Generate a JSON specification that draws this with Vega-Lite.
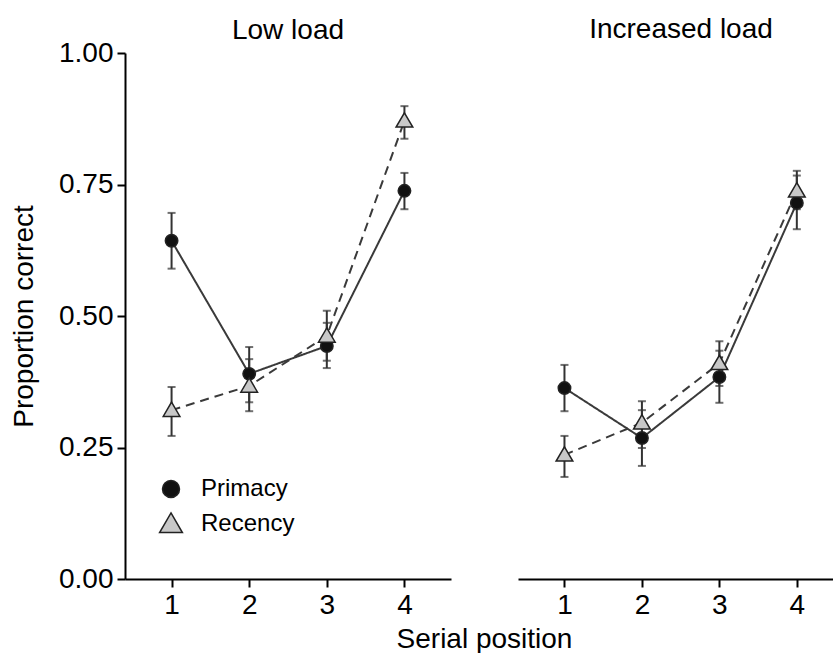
{
  "$schema": "https://vega.github.io/schema/vega-lite/v6.json",
  "padding": {"left": 10, "top": 16, "right": 0, "bottom": 0},
  "background": "white",
  "bounds": "flush",
  "config": {
    "font": "Liberation Sans",
    "view": {"stroke": null},
    "axis": {"grid": false, "domainColor": "#000", "domainWidth": 2, "tickColor": "#000", "tickWidth": 2, "tickSize": 8, "labelFontSize": 28, "titleFontSize": 28, "labelColor": "#000", "titleColor": "#000", "titleFontWeight": "normal", "labelFont": "Liberation Sans", "titleFont": "Liberation Sans"},
    "title": {"fontSize": 28, "fontWeight": "normal", "color": "#000", "font": "Liberation Sans"}
  },
  "data": {"values": [
    {"load": "Low load", "position": 1, "series": "Primacy", "value": 0.643, "lo": 0.590, "hi": 0.696},
    {"load": "Low load", "position": 2, "series": "Primacy", "value": 0.390, "lo": 0.336, "hi": 0.441},
    {"load": "Low load", "position": 3, "series": "Primacy", "value": 0.443, "lo": 0.401, "hi": 0.487},
    {"load": "Low load", "position": 4, "series": "Primacy", "value": 0.738, "lo": 0.703, "hi": 0.772},
    {"load": "Low load", "position": 1, "series": "Recency", "value": 0.321, "lo": 0.272, "hi": 0.365},
    {"load": "Low load", "position": 2, "series": "Recency", "value": 0.367, "lo": 0.319, "hi": 0.418},
    {"load": "Low load", "position": 3, "series": "Recency", "value": 0.462, "lo": 0.415, "hi": 0.510},
    {"load": "Low load", "position": 4, "series": "Recency", "value": 0.871, "lo": 0.837, "hi": 0.899},
    {"load": "Increased load", "position": 1, "series": "Primacy", "value": 0.363, "lo": 0.319, "hi": 0.407},
    {"load": "Increased load", "position": 2, "series": "Primacy", "value": 0.268, "lo": 0.215, "hi": 0.321},
    {"load": "Increased load", "position": 3, "series": "Primacy", "value": 0.384, "lo": 0.335, "hi": 0.434},
    {"load": "Increased load", "position": 4, "series": "Primacy", "value": 0.715, "lo": 0.665, "hi": 0.767},
    {"load": "Increased load", "position": 1, "series": "Recency", "value": 0.236, "lo": 0.194, "hi": 0.272},
    {"load": "Increased load", "position": 2, "series": "Recency", "value": 0.297, "lo": 0.249, "hi": 0.338},
    {"load": "Increased load", "position": 3, "series": "Recency", "value": 0.410, "lo": 0.367, "hi": 0.452},
    {"load": "Increased load", "position": 4, "series": "Recency", "value": 0.738, "lo": 0.703, "hi": 0.776}
  ]},
  "spacing": 67,
  "resolve": {"legend": {"shape": "independent", "fill": "independent"}},
  "hconcat": [
    {
      "width": 326,
      "height": 526,
      "title": {"text": "Low load", "anchor": "middle", "frame": "group", "offset": -6},
      "transform": [{"filter": "datum.load === 'Low load'"}],
      "encoding": {
        "x": {"field": "position", "type": "quantitative", "scale": {"domain": [0.4, 4.6], "nice": false, "zero": false},
              "axis": {"values": [1, 2, 3, 4], "format": "d", "labelPadding": 4, "title": "Serial position", "titleX": 359, "titleAlign": "center", "titlePadding": 6}}
      },
      "layer": [
        {"mark": {"type": "line", "color": "#3a3a3a", "strokeWidth": 2},
         "encoding": {"y": {"field": "value", "type": "quantitative", "scale": {"domain": [0, 1], "nice": false},
                            "axis": {"values": [0, 0.25, 0.5, 0.75, 1], "format": ".2f", "title": "Proportion correct", "labelPadding": 4, "titlePadding": 20}},
                      "detail": {"field": "series"},
                      "strokeDash": {"field": "series", "type": "nominal", "scale": {"domain": ["Primacy", "Recency"], "range": [[1, 0], [9, 6]]}, "legend": null}}},
        {"mark": {"type": "rule", "color": "#333", "strokeWidth": 2},
         "encoding": {"y": {"field": "lo", "type": "quantitative"}, "y2": {"field": "hi"}}},
        {"mark": {"type": "tick", "orient": "horizontal", "color": "#333", "thickness": 2, "size": 8},
         "encoding": {"y": {"field": "lo", "type": "quantitative"}}},
        {"mark": {"type": "tick", "orient": "horizontal", "color": "#333", "thickness": 2, "size": 8},
         "encoding": {"y": {"field": "hi", "type": "quantitative"}}},
        {"mark": {"type": "point", "filled": true, "opacity": 1, "stroke": "#222", "strokeWidth": 1.5, "size": 155},
         "encoding": {"y": {"field": "value", "type": "quantitative"},
                      "shape": {"field": "series", "type": "nominal", "scale": {"domain": ["Primacy", "Recency"], "range": ["circle", "M0,-1.3L1.34,1.0L-1.34,1.0Z"]},
                                "legend": {"title": null, "orient": "none", "legendX": 34, "legendY": 424, "labelFontSize": 24, "labelColor": "#000", "symbolSize": 289, "labelOffset": 18, "rowPadding": 8,
                                           "encode": {"symbols": {"stroke": {"value": "#333"}, "strokeWidth": {"value": 1.5}}}}},
                      "fill": {"field": "series", "type": "nominal", "scale": {"domain": ["Primacy", "Recency"], "range": ["#111111", "#c8c8c8"]},
                               "legend": {"title": null, "orient": "none", "legendX": 34, "legendY": 424, "labelFontSize": 24, "labelColor": "#000", "symbolSize": 289, "labelOffset": 18, "rowPadding": 8,
                                          "encode": {"symbols": {"stroke": {"value": "#333"}, "strokeWidth": {"value": 1.5}}}}}}}
      ]
    },
    {
      "width": 316,
      "height": 526,
      "title": {"text": "Increased load", "anchor": "middle", "frame": "group", "offset": 9, "dx": 5},
      "transform": [{"filter": "datum.load === 'Increased load'"}],
      "encoding": {
        "x": {"field": "position", "type": "quantitative", "scale": {"domain": [0.4, 4.48], "nice": false, "zero": false},
              "axis": {"values": [1, 2, 3, 4], "format": "d", "labelPadding": 4, "title": null}}
      },
      "layer": [
        {"mark": {"type": "line", "color": "#3a3a3a", "strokeWidth": 2},
         "encoding": {"y": {"field": "value", "type": "quantitative", "scale": {"domain": [0, 1], "nice": false}, "axis": null},
                      "detail": {"field": "series"},
                      "strokeDash": {"field": "series", "type": "nominal", "scale": {"domain": ["Primacy", "Recency"], "range": [[1, 0], [9, 6]]}, "legend": null}}},
        {"mark": {"type": "rule", "color": "#333", "strokeWidth": 2},
         "encoding": {"y": {"field": "lo", "type": "quantitative", "axis": null}, "y2": {"field": "hi"}}},
        {"mark": {"type": "tick", "orient": "horizontal", "color": "#333", "thickness": 2, "size": 8},
         "encoding": {"y": {"field": "lo", "type": "quantitative", "axis": null}}},
        {"mark": {"type": "tick", "orient": "horizontal", "color": "#333", "thickness": 2, "size": 8},
         "encoding": {"y": {"field": "hi", "type": "quantitative", "axis": null}}},
        {"mark": {"type": "point", "filled": true, "opacity": 1, "stroke": "#222", "strokeWidth": 1.5, "size": 155},
         "encoding": {"y": {"field": "value", "type": "quantitative", "axis": null},
                      "shape": {"field": "series", "type": "nominal", "scale": {"domain": ["Primacy", "Recency"], "range": ["circle", "M0,-1.3L1.34,1.0L-1.34,1.0Z"]}, "legend": null},
                      "fill": {"field": "series", "type": "nominal", "scale": {"domain": ["Primacy", "Recency"], "range": ["#111111", "#c8c8c8"]}, "legend": null}}}
      ]
    }
  ]
}
